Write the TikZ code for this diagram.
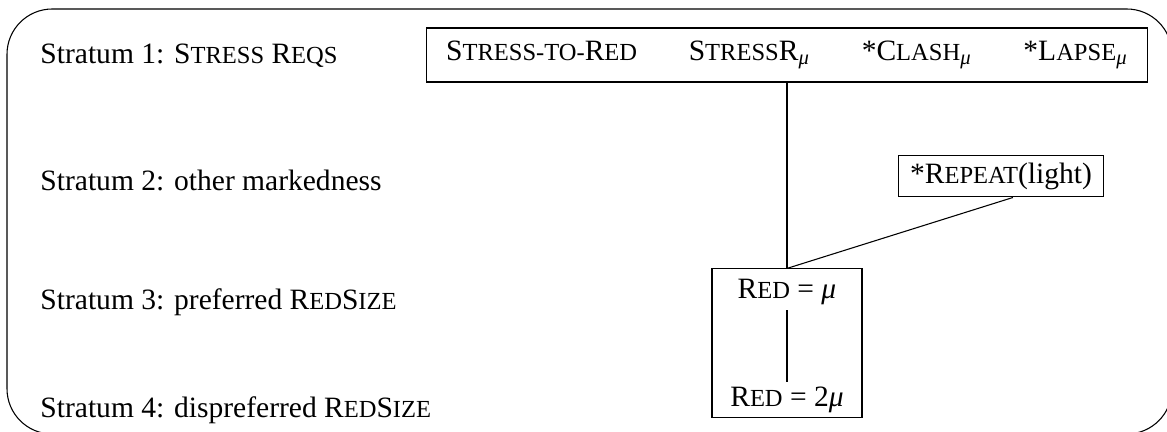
\documentclass[tikz,border=0pt]{standalone}
\usepackage{fontspec}
\setmainfont{Liberation Serif}
\usetikzlibrary{positioning}
\newcommand{\smc}[1]{{\fontsize{10.3pt}{10pt}\selectfont\MakeUppercase{#1}}}
\newcommand{\mub}{\textsubscript{\textit{μ}}}
\tikzset{
  x=0.42pt, y=-0.42pt,
  every node/.style={font=\fontsize{12.4pt}{14pt}\selectfont},
  stratum/.style={anchor=west, inner sep=0pt},
  cbox/.style={draw, line width=0.45pt, inner sep=0pt},
  ctext/.style={inner sep=2pt},
  dom/.style={line width=0.45pt},
  frame/.style={draw, line width=0.45pt, rounded corners=19pt}
}

\begin{document}
\begin{tikzpicture}
  \useasboundingbox (0,0) rectangle (1167,432);
  \draw[frame] (7,9) rectangle (1172,434);

  % strata
  \node[stratum] (s1) at (40,56) {Stratum 1: S\smc{tress} R\smc{eqs}};
  \node[stratum] (s2) at (40,180) {Stratum 2: other markedness};
  \node[stratum] (s3) at (40,302) {Stratum 3: preferred R\smc{ed}S\smc{ize}};
  \node[stratum] (s4) at (40,410) {Stratum 4: dispreferred R\smc{ed}S\smc{ize}};

  % constraints
  \node[cbox, minimum width=302.8pt, minimum height=22.7pt] (stress) at (787,55)
    {S\smc{tress-to-}R\smc{ed}\hspace{1.75em}S\smc{tress}R\mub\hspace{1.75em}*C\smc{lash}\mub\hspace{1.75em}*L\smc{apse}\mub};
  \node[cbox, minimum width=86pt, minimum height=17.6pt] (rep) at (1001,176)
    {*R\smc{epeat}(light)};
  \node[cbox, minimum width=63pt, minimum height=62.2pt] (redbox) at (787,343) {};
  \node[ctext] (red1) at (787,292) {R\smc{ed} = \textit{μ}};
  \node[ctext] (red2) at (787,400) {R\smc{ed} = 2\textit{μ}};

  % domination lines
  \draw[dom] (stress.south) -- (redbox.north);
  \draw[dom] ([xshift=5pt]rep.south) -- (redbox.north);
  \draw[dom] (red1.south) -- (red2.north);
\end{tikzpicture}
\end{document}
